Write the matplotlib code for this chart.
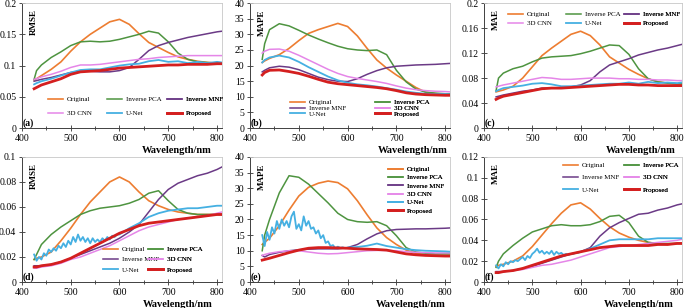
import matplotlib
matplotlib.use("Agg")
import matplotlib.pyplot as plt
from matplotlib.ticker import MultipleLocator, FuncFormatter

plt.rcParams['font.family'] = ['Liberation Serif', 'DejaVu Serif']

# wavelength grids (nm)
wl = [425, 430, 440, 460, 480, 500, 520, 540, 560, 580, 600, 620, 640, 660, 680, 700, 720, 740, 760, 780, 800, 810]
wl_fine = [425, 430, 435, 440, 445, 450, 455, 460, 465, 470, 475, 480, 485, 490, 495, 500, 505, 510,
           515, 520, 525, 530, 535, 540, 545, 550, 555, 560, 565, 570, 575, 580, 585, 590, 595, 600,
           620, 640, 660, 680, 700, 720, 740, 760, 780, 800, 810]

# (a) RMSE
a_original = [.077, .079, .084, .094, .106, .123, .138, .150, .160, .170, .174, .166, .151, .137, .129, .121, .114, .110, .107, .105, .104, .103]
a_pca = [.078, .092, .101, .113, .122, .132, .138, .139, .138, .139, .142, .146, .150, .155, .152, .138, .120, .110, .106, .105, .104, .104]
a_mnf = [.075, .076, .078, .081, .085, .089, .091, .091, .090, .090, .092, .097, .110, .124, .132, .137, .141, .145, .148, .151, .154, .155]
a_cnn = [.078, .079, .082, .086, .091, .097, .101, .101, .102, .104, .106, .108, .110, .111, .113, .114, .115, .116, .116, .116, .116, .116]
a_unet = [.070, .072, .075, .079, .084, .089, .093, .094, .094, .097, .100, .102, .103, .107, .109, .106, .107, .104, .106, .104, .106, .105]
a_prop = [.063, .065, .069, .074, .079, .086, .090, .091, .092, .094, .096, .097, .098, .099, .100, .101, .101, .102, .102, .102, .103, .103]

# (b) MAPE
b_original = [21.0, 21.5, 22.3, 23.5, 25.5, 28.0, 30.3, 31.5, 32.5, 33.5, 32.5, 29.5, 25.5, 21.8, 19.2, 17.0, 15.0, 13.0, 11.5, 11.0, 10.8, 10.7]
b_pca = [22.0, 27.0, 31.5, 33.4, 32.7, 31.3, 29.8, 28.5, 27.3, 26.2, 25.4, 25.0, 24.8, 25.0, 23.5, 18.5, 14.8, 12.5, 11.5, 11.2, 11.0, 11.0]
b_mnf = [18.0, 18.5, 19.3, 19.8, 19.5, 18.7, 17.5, 16.3, 15.5, 15.0, 14.9, 15.8, 17.2, 18.4, 19.3, 19.8, 20.0, 20.2, 20.3, 20.4, 20.6, 20.7]
b_cnn = [24.0, 24.6, 25.2, 25.3, 24.6, 23.3, 21.8, 20.3, 18.8, 17.5, 16.5, 15.9, 15.4, 14.9, 14.3, 13.5, 12.8, 12.3, 12.0, 11.8, 11.7, 11.6]
b_unet = [21.0, 21.8, 22.6, 23.2, 22.6, 21.2, 19.5, 18.0, 16.5, 15.3, 14.5, 14.0, 13.7, 13.3, 12.8, 12.3, 11.7, 11.3, 11.0, 10.9, 10.9, 10.8]
b_prop = [17.0, 17.8, 18.5, 18.6, 18.1, 17.5, 16.6, 15.6, 14.7, 14.2, 13.9, 13.6, 13.3, 13.0, 12.6, 12.0, 11.3, 10.9, 10.7, 10.6, 10.5, 10.5]

# (c) MAE
c_original = [.058, .059, .061, .067, .080, .098, .116, .128, .139, .150, .155, .148, .133, .114, .104, .094, .086, .079, .074, .072, .070, .070]
c_pca = [.060, .080, .088, .095, .099, .106, .112, .114, .115, .116, .119, .123, .128, .133, .132, .118, .095, .079, .074, .072, .071, .071]
c_mnf = [.050, .051, .053, .056, .059, .061, .064, .064, .064, .066, .069, .076, .090, .101, .106, .111, .117, .121, .125, .128, .132, .134]
c_cnn = [.066, .067, .069, .072, .075, .078, .081, .080, .078, .078, .079, .080, .080, .080, .079, .079, .078, .078, .077, .077, .076, .076]
c_unet = [.059, .061, .064, .066, .068, .071, .072, .070, .067, .067, .068, .069, .070, .071, .071, .073, .071, .074, .072, .073, .072, .073]
c_prop = [.046, .048, .051, .054, .057, .060, .063, .064, .064, .065, .066, .067, .068, .069, .070, .070, .069, .069, .068, .068, .068, .068]

# (d) RMSE
d_original = [.018, .019, .020, .024, .033, .043, .054, .064, .072, .080, .084, .080, .072, .065, .061, .058, .056, .055, .054, .054, .054, .054]
d_pca = [.018, .022, .030, .038, .044, .049, .054, .057, .059, .060, .061, .063, .066, .071, .073, .065, .058, .055, .054, .054, .054, .054]
d_mnf = [.013, .013, .013, .014, .016, .019, .022, .025, .028, .031, .035, .040, .046, .056, .066, .074, .079, .082, .085, .087, .090, .092]
d_cnn = [.011, .011, .012, .013, .015, .018, .020, .023, .026, .029, .033, .037, .041, .044, .046, .048, .050, .051, .052, .053, .055, .056]
d_unet = [.022, .017, .020, .018, .023, .021, .026, .024, .027, .025, .029, .027, .031, .028, .033, .030, .036, .032,
          .038, .033, .036, .032, .035, .031, .035, .032, .034, .032, .035, .033, .036, .034, .037, .036, .038, .038,
          .043, .047, .052, .055, .057, .058, .059, .059, .060, .061, .061]
d_prop = [.012, .012, .013, .014, .016, .019, .023, .027, .031, .035, .039, .042, .045, .047, .048, .049, .050, .051, .052, .053, .054, .054]

# (e) MAPE
e_original = [12.0, 12.7, 14.0, 18.0, 23.0, 27.5, 30.3, 31.6, 32.3, 31.8, 29.8, 26.0, 21.5, 17.3, 14.2, 12.0, 10.2, 9.2, 8.7, 8.5, 8.5, 8.5]
e_pca = [10.0, 15.0, 20.0, 28.5, 34.0, 33.5, 31.3, 28.3, 25.3, 22.0, 20.0, 19.3, 19.1, 19.3, 18.0, 14.8, 11.0, 9.6, 9.2, 9.0, 9.0, 9.0]
e_mnf = [8.5, 8.0, 8.8, 9.5, 10.0, 10.3, 10.5, 10.6, 10.6, 10.6, 11.0, 12.0, 13.8, 15.4, 16.4, 16.8, 16.9, 17.0, 17.0, 17.1, 17.2, 17.3]
e_cnn = [8.5, 8.8, 9.2, 9.7, 10.0, 10.0, 9.6, 9.2, 9.0, 9.1, 9.4, 9.7, 10.0, 10.1, 10.1, 10.0, 9.7, 9.5, 9.4, 9.3, 9.3, 9.3]
e_unet = [15.0, 11.5, 16.0, 13.5, 17.5, 15.5, 19.5, 17.0, 20.0, 18.0, 19.5, 17.5, 21.0, 22.5, 17.0, 18.5, 16.5, 21.0,
          18.0, 19.5, 17.0, 17.5, 15.5, 16.5, 14.0, 15.0, 12.5, 13.0, 11.5, 11.8, 10.8, 11.3, 10.9, 11.1, 10.8, 11.0,
          11.2, 11.6, 12.3, 11.5, 11.0, 10.5, 10.2, 10.0, 9.9, 9.8, 9.7]
e_prop = [7.0, 7.2, 7.6, 8.5, 9.4, 10.2, 10.8, 11.0, 11.0, 10.9, 10.8, 10.6, 10.5, 10.4, 10.2, 9.6, 9.0, 8.7, 8.5, 8.4, 8.3, 8.3]

# (f) MAE
f_original = [.015, .016, .017, .020, .025, .034, .045, .056, .066, .074, .076, .070, .061, .053, .047, .043, .040, .038, .037, .036, .037, .037]
f_pca = [.014, .020, .027, .035, .042, .048, .051, .054, .055, .054, .054, .055, .058, .063, .064, .057, .044, .038, .037, .037, .037, .037]
f_mnf = [.010, .010, .010, .011, .013, .015, .018, .021, .024, .027, .029, .033, .044, .052, .057, .061, .065, .066, .069, .071, .074, .075]
f_cnn = [.009, .009, .010, .011, .012, .014, .016, .017, .019, .021, .024, .027, .030, .033, .034, .035, .036, .037, .038, .039, .040, .041]
f_unet = [.016, .013, .017, .015, .019, .017, .020, .019, .021, .020, .022, .024, .021, .025, .023, .027, .029, .032,
          .028, .030, .027, .029, .027, .030, .026, .029, .027, .028, .026, .027, .026, .027, .027, .028, .028, .029,
          .032, .036, .040, .041, .041, .041, .041, .042, .042, .042, .042]
f_prop = [.009, .009, .010, .011, .013, .016, .019, .022, .025, .027, .029, .031, .033, .034, .035, .035, .035, .035, .036, .036, .037, .037]

names = ['Original', 'Inverse PCA', 'Inverse MNF', '3D CNN', 'U-Net', 'Proposed']
colors = ['#ED7D31', '#4E9440', '#6B3A86', '#E586E8', '#45B0E2', '#D41F1F']
widths = [1.2, 1.1, 1.1, 1.1, 1.3, 2.0]

fig = plt.figure(figsize=(6.85, 3.08), dpi=100)

panels = [
    # data, metric, tag, ylim, ystep, rect, legend columns, column x, legend y, labelspacing, xlabel x
    ([a_original, a_pca, a_mnf, a_cnn, a_unet, a_prop], 'RMSE', '(a)', 0.2, 0.05,
     [0.032, 0.584, 0.292, 0.406], [[0, 3], [1, 4], [2, 5]], [0.13, 0.425, 0.725], 0.176, 1.15, 0.95),
    ([b_original, b_pca, b_mnf, b_cnn, b_unet, b_prop], 'MAPE', '(b)', 40, 5,
     [0.365, 0.584, 0.292, 0.406], [[0, 2, 4], [1, 3, 5]], [0.20, 0.625], 0.16, 0.0, 0.99),
    ([c_original, c_pca, c_mnf, c_cnn, c_unet, c_prop], 'MAE', '(c)', 0.2, 0.04,
     [0.7066, 0.584, 0.289, 0.406], [[0, 3], [1, 4], [2, 5]], [0.12, 0.414, 0.707], 0.876, 0.43, 0.97),
    ([d_original, d_pca, d_mnf, d_cnn, d_unet, d_prop], 'RMSE', '(d)', 0.1, 0.02,
     [0.032, 0.0844, 0.292, 0.406], [[0, 2, 4], [1, 3, 5]], [0.405, 0.63], 0.18, 0.65, 0.955),
    ([e_original, e_pca, e_mnf, e_cnn, e_unet, e_prop], 'MAPE', '(e)', 40, 5,
     [0.365, 0.0844, 0.292, 0.406], [[0, 1, 2, 3, 4, 5]], [0.69], 0.736, 0.35, 0.98),
    ([f_original, f_pca, f_mnf, f_cnn, f_unet, f_prop], 'MAE', '(f)', 0.12, 0.02,
     [0.7066, 0.0844, 0.289, 0.406], [[0, 2, 4], [1, 3, 5]], [0.40, 0.707], 0.836, 0.94, 0.96),
]

for i, (series, metric, tag, ymax, ystep, rect, cols, colx, legy, lsp, xlx) in enumerate(panels):
    ax = fig.add_axes(rect)
    lines = []
    for k, vals in enumerate(series):
        x = wl_fine if len(vals) == len(wl_fine) else wl
        ln, = ax.plot(x, vals, color=colors[k], lw=widths[k], label=names[k],
                      zorder=3 if k == 5 else 2)
        lines.append(ln)
    ax.set_xlim(400, 810)
    ax.set_ylim(0, ymax)
    ax.xaxis.set_major_locator(MultipleLocator(100))
    ax.xaxis.set_minor_locator(MultipleLocator(50))
    ax.yaxis.set_major_locator(MultipleLocator(ystep))
    ax.yaxis.set_major_formatter(FuncFormatter(lambda v, _: f'{v:g}'))
    ax.tick_params(which='both', direction='inout', labelsize=7, width=0.6, colors='#333333',
                   labelcolor='black', pad=2)
    ax.tick_params(which='major', length=4)
    ax.tick_params(which='minor', length=3)
    for s in ['left', 'bottom']:
        ax.spines[s].set_color('#404040')
        ax.spines[s].set_linewidth(0.7)
    for s in ['top', 'right']:
        ax.spines[s].set_color('#c8c8c8')
        ax.spines[s].set_linewidth(0.6)

    ax.text(0.06, 0.95, metric, transform=ax.transAxes, rotation=90, ha='center', va='top',
            fontsize=6.5, fontweight='bold')
    ax.text(0.005, 0.04, tag, transform=ax.transAxes, ha='left', va='center',
            fontsize=7, fontweight='bold')
    ax.set_xlabel('Wavelength/nm', fontsize=7.5, fontweight='bold', ha='right')
    ax.xaxis.set_label_coords(xlx, -0.145)

    for c, idx in enumerate(cols):
        leg = ax.legend([lines[j] for j in idx], [names[j] for j in idx], loc='center left',
                        bbox_to_anchor=(colx[c], legy), frameon=False, fontsize=5,
                        handlelength=2.2, handletextpad=0.5, labelspacing=lsp,
                        borderpad=0, borderaxespad=0)
        ax.add_artist(leg)

fig.savefig('out.png', dpi=100)
